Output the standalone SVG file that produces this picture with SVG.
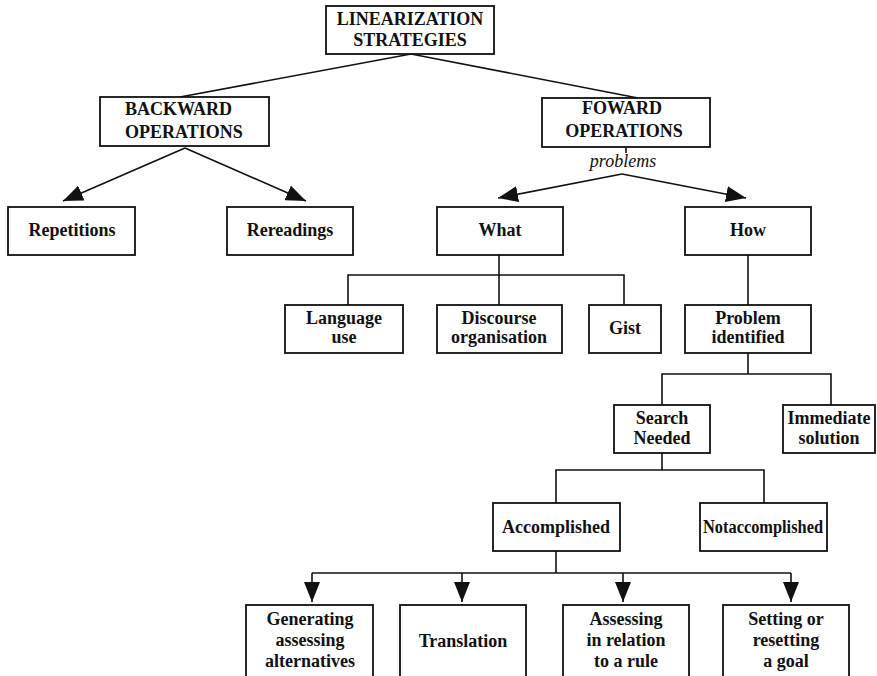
<svg xmlns="http://www.w3.org/2000/svg" width="877" height="676" viewBox="0 0 877 676">
<defs>
<style>
.box{fill:#fff;stroke:#111;stroke-width:1.8}
.ln{fill:none;stroke:#111;stroke-width:1.6}
text{font-family:"Liberation Serif","Times New Roman",serif;font-weight:bold;font-size:18px;fill:#111;text-anchor:middle}
.it{font-style:italic;font-weight:normal}
</style>
<marker id="ah" viewBox="0 0 20 16" markerWidth="20" markerHeight="16" refX="20" refY="8" orient="auto" markerUnits="userSpaceOnUse">
<path d="M0,0 L20,8 L0,16 z" fill="#111"/>
</marker>
</defs>
<rect width="877" height="676" fill="#fff"/>
<g id="connectors">
<polyline class="ln" points="180,97 411,54 638,98"/>
<line class="ln" x1="185" y1="148" x2="63" y2="201" marker-end="url(#ah)"/>
<line class="ln" x1="185" y1="148" x2="306" y2="201" marker-end="url(#ah)"/>
<line class="ln" x1="626" y1="147" x2="626" y2="153"/>
<line class="ln" x1="622" y1="174" x2="498" y2="198" marker-end="url(#ah)"/>
<line class="ln" x1="622" y1="174" x2="746" y2="198" marker-end="url(#ah)"/>
<line class="ln" x1="499" y1="255" x2="499" y2="305"/>
<polyline class="ln" points="348,305 348,275 624,275 624,305"/>
<line class="ln" x1="748" y1="255" x2="748" y2="305"/>
<line class="ln" x1="748" y1="353" x2="748" y2="374"/>
<polyline class="ln" points="662,405 662,374 831,374 831,405"/>
<line class="ln" x1="662" y1="453" x2="662" y2="470"/>
<polyline class="ln" points="556,503 556,470 764,470 764,503"/>
<line class="ln" x1="556" y1="551" x2="556" y2="573"/>
<line class="ln" x1="312" y1="573" x2="791" y2="573"/>
<line class="ln" x1="312" y1="573" x2="312" y2="602" marker-end="url(#ah)"/>
<line class="ln" x1="462" y1="573" x2="462" y2="602" marker-end="url(#ah)"/>
<line class="ln" x1="623" y1="573" x2="623" y2="602" marker-end="url(#ah)"/>
<line class="ln" x1="791" y1="573" x2="791" y2="602" marker-end="url(#ah)"/>
</g>
<g id="linearization"><rect class="box" x="326" y="6" width="168" height="48"/><text x="410" y="25">LINEARIZATION</text><text x="410" y="46">STRATEGIES</text></g>
<g id="backward"><rect class="box" x="100" y="97" width="169" height="49"/><text x="125" y="115" style="text-anchor:start">BACKWARD</text><text x="125" y="138" style="text-anchor:start">OPERATIONS</text></g>
<g id="foward"><rect class="box" x="542" y="98" width="168" height="49"/><text x="622" y="114">FOWARD</text><text x="624" y="137">OPERATIONS</text></g>
<text class="it" x="623" y="167">problems</text>
<g id="repetitions"><rect class="box" x="8" y="207" width="127" height="48"/><text x="72" y="236">Repetitions</text></g>
<g id="rereadings"><rect class="box" x="227" y="207" width="126" height="48"/><text x="290" y="236">Rereadings</text></g>
<g id="what"><rect class="box" x="437" y="207" width="126" height="48"/><text x="500" y="236">What</text></g>
<g id="how"><rect class="box" x="685" y="207" width="126" height="48"/><text x="748" y="236">How</text></g>
<g id="language"><rect class="box" x="285" y="305" width="118" height="48"/><text x="344" y="324">Language</text><text x="344" y="343">use</text></g>
<g id="discourse"><rect class="box" x="437" y="305" width="125" height="48"/><text x="499" y="324">Discourse</text><text x="499" y="343">organisation</text></g>
<g id="gist"><rect class="box" x="589" y="305" width="72" height="48"/><text x="625" y="334">Gist</text></g>
<g id="problem"><rect class="box" x="685" y="305" width="126" height="48"/><text x="748" y="324">Problem</text><text x="748" y="343">identified</text></g>
<g id="search"><rect class="box" x="614" y="405" width="96" height="48"/><text x="662" y="424">Search</text><text x="662" y="444">Needed</text></g>
<g id="immediate"><rect class="box" x="783" y="405" width="92" height="48"/><text x="829" y="424">Immediate</text><text x="829" y="444">solution</text></g>
<g id="accomplished"><rect class="box" x="493" y="503" width="127" height="48"/><text x="556" y="533">Accomplished</text></g>
<g id="notaccomplished"><rect class="box" x="700" y="503" width="127" height="48"/><text x="763" y="533" textLength="120" lengthAdjust="spacingAndGlyphs">Notaccomplished</text></g>
<g id="generating"><rect class="box" x="246" y="605" width="127" height="80"/><text x="310" y="625">Generating</text><text x="310" y="646">assessing</text><text x="310" y="667">alternatives</text></g>
<g id="translation"><rect class="box" x="400" y="605" width="126" height="80"/><text x="463" y="647">Translation</text></g>
<g id="assessing"><rect class="box" x="563" y="605" width="126" height="80"/><text x="626" y="625">Assessing</text><text x="626" y="646">in relation</text><text x="626" y="667">to a rule</text></g>
<g id="setting"><rect class="box" x="723" y="605" width="126" height="80"/><text x="786" y="625">Setting or</text><text x="786" y="646">resetting</text><text x="786" y="667">a goal</text></g>
</svg>
